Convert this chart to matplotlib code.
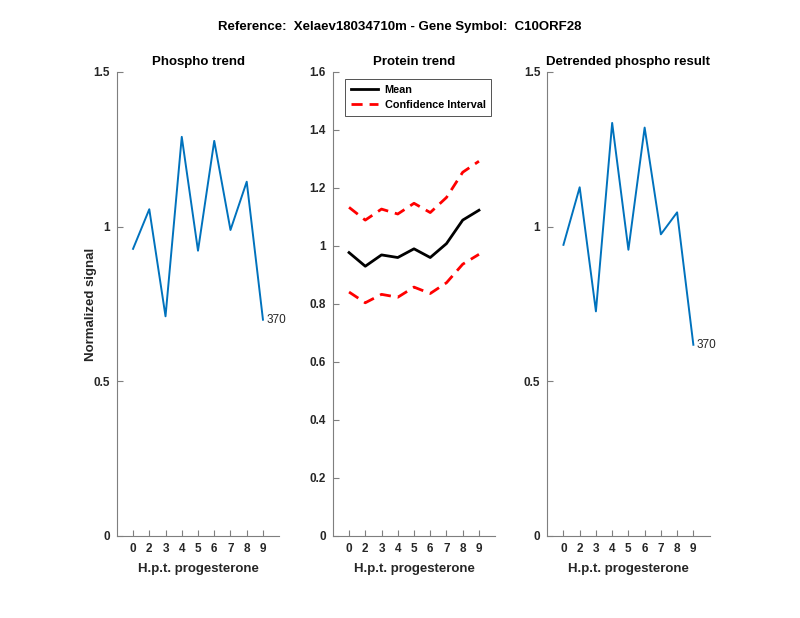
import matplotlib
matplotlib.use('Agg')
import matplotlib.pyplot as plt

plt.rcParams['font.family'] = ['Liberation Sans', 'DejaVu Sans']

# 数据
time_labels = ['0', '2', '3', '4', '5', '6', '7', '8', '9']
positions = [1, 2, 3, 4, 5, 6, 7, 8, 9]

phospho = [0.928, 1.056, 0.710, 1.290, 0.922, 1.277, 0.989, 1.145, 0.699]
protein_mean = [0.977, 0.930, 0.969, 0.960, 0.990, 0.960, 1.008, 1.089, 1.123]
protein_upper = [1.133, 1.089, 1.127, 1.110, 1.147, 1.115, 1.167, 1.254, 1.292]
protein_lower = [0.841, 0.804, 0.833, 0.823, 0.858, 0.836, 0.873, 0.937, 0.971]
detrended = [0.941, 1.127, 0.726, 1.335, 0.925, 1.320, 0.975, 1.046, 0.618]
peptide_id = '370'

blue = '#0072BD'
axis_gray = '#7f7f7f'
text_gray = '#262626'

fig = plt.figure(figsize=(8, 6.18), dpi=100)

left_edges = [0.146, 0.416, 0.684]
bottom, width, height = 0.1327, 0.203, 0.751


def style_axes(ax, yticks, ylabels, ymax):
    ax.set_xlim(0, 10)
    ax.set_ylim(0, ymax)
    ax.set_xticks(positions)
    ax.set_xticklabels(time_labels)
    ax.set_yticks(yticks)
    ax.set_yticklabels(ylabels)
    for s in ['top', 'right']:
        ax.spines[s].set_visible(False)
    for s in ['left', 'bottom']:
        ax.spines[s].set_color(axis_gray)
        ax.spines[s].set_linewidth(0.8)
    ax.tick_params(direction='in', length=4, width=0.8, color=axis_gray,
                   labelcolor=text_gray, labelsize=8.5, pad=5)
    for lbl in ax.get_xticklabels() + ax.get_yticklabels():
        lbl.set_fontweight('bold')
    ax.set_xlabel('H.p.t. progesterone', fontsize=9.5, fontweight='bold',
                  color=text_gray, labelpad=5.5)


# 1. Phospho trend
ax1 = fig.add_axes([left_edges[0], bottom, width, height])
ax1.plot(positions, phospho, color=blue, lw=1.4)
style_axes(ax1, [0, 0.5, 1, 1.5], ['0', '0.5', '1', '1.5'], 1.5)
ax1.set_title('Phospho trend', fontsize=9.5, fontweight='bold', pad=5)
ax1.set_ylabel('Normalized signal', fontsize=9.5, fontweight='bold',
               color=text_gray)
ax1.yaxis.set_label_coords(-0.123, 0.5)
ax1.text(positions[-1] + 0.2, phospho[-1], peptide_id, fontsize=8.5,
         va='center', ha='left', color=text_gray)

# 2. Protein trend
ax2 = fig.add_axes([left_edges[1], bottom, width, height])
ax2.plot(positions, protein_mean, color='black', lw=2, label='Mean')
ax2.plot(positions, protein_upper, color='red', lw=2, ls=(0, (4, 2.5)),
         label='Confidence Interval')
ax2.plot(positions, protein_lower, color='red', lw=2, ls=(0, (4, 2.5)))
yt = [0, 0.2, 0.4, 0.6, 0.8, 1.0, 1.2, 1.4, 1.6]
style_axes(ax2, yt, ['0', '0.2', '0.4', '0.6', '0.8', '1', '1.2', '1.4', '1.6'], 1.6)
ax2.set_title('Protein trend', fontsize=9.5, fontweight='bold', pad=5)
leg = ax2.legend(loc='upper left', bbox_to_anchor=(0.075, 0.985),
                 prop={'size': 7.8, 'weight': 'bold'}, frameon=True,
                 fancybox=False, borderpad=0.55, labelspacing=0.48,
                 handlelength=2.5, handletextpad=0.6, borderaxespad=0)
leg.get_frame().set_edgecolor(text_gray)
leg.get_frame().set_linewidth(0.7)

# 3. Detrended phospho result
ax3 = fig.add_axes([left_edges[2], bottom, width, height])
ax3.plot(positions, detrended, color=blue, lw=1.4)
style_axes(ax3, [0, 0.5, 1, 1.5], ['0', '0.5', '1', '1.5'], 1.5)
ax3.set_title('Detrended phospho result', fontsize=9.5, fontweight='bold', pad=5)
ax3.text(positions[-1] + 0.2, detrended[-1], peptide_id, fontsize=8.5,
         va='center', ha='left', color=text_gray)

fig.text(0.5, 0.956, 'Reference:  Xelaev18034710m - Gene Symbol:  C10ORF28',
         ha='center', va='center', fontsize=9.5, fontweight='bold')

fig.savefig('out.png', dpi=100)
